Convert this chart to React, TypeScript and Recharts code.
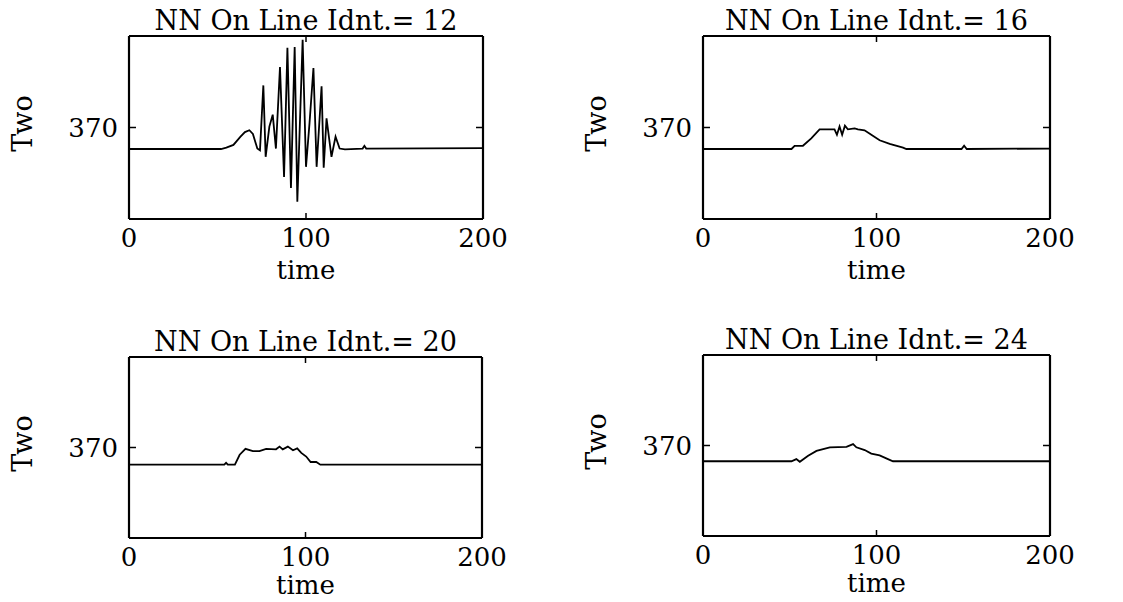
import React from "react";
import { Label, Line, LineChart, XAxis, YAxis } from "recharts";

// NN on-line identification, Two vs time, four training lengths
const panelIds = [12, 16, 20, 24];
const xTicks = [0, 100, 200];
const yTicks = [370];

const time12 = [0, 52, 55, 59, 63, 65.5, 68, 70, 72.5, 74, 75.9, 77.2, 79.3, 81.2, 83, 85.3, 87.6, 89.5, 91.5, 93.6, 95.1, 98.1, 100, 102, 104.2, 106, 108.8, 110, 111.6, 114.4, 116.7, 119, 122, 132, 133, 134, 200];
const two12 = [367.65, 367.65, 367.8, 368.1, 369.0, 369.5, 369.7, 369.3, 367.7, 367.5, 374.6, 366.8, 370.1, 371.4, 367.7, 376.6, 364.6, 378.7, 363.4, 378.8, 361.9, 379.6, 365.7, 370.5, 376.5, 365.7, 374.5, 365.6, 371.0, 366.8, 369.0, 367.7, 367.6, 367.7, 368.0, 367.7, 367.75];

const time16 = [0, 51, 52.8, 57.6, 62.4, 67.2, 75.8, 77.2, 78.7, 80.2, 81.8, 83.5, 87.4, 89.3, 93.1, 97, 101.8, 107.6, 115.3, 117.2, 149, 150.5, 152, 200];
const two16 = [367.65, 367.65, 368.0, 368.0, 368.8, 369.8, 369.8, 369.2, 370.1, 369.2, 370.2, 369.8, 369.9, 369.8, 369.7, 369.2, 368.6, 368.2, 367.8, 367.65, 367.65, 368.0, 367.65, 367.7];

const time20 = [0, 54, 55, 56, 60, 62.7, 66, 70.2, 73.9, 77.7, 83.3, 85.3, 87.1, 90, 92.9, 95.3, 97.6, 100.4, 102.9, 106.1, 108.4, 200];
const two20 = [368.1, 368.1, 368.3, 368.1, 368.1, 369.2, 369.85, 369.6, 369.6, 369.85, 369.8, 370.1, 369.8, 370.1, 369.7, 369.9, 369.4, 369.0, 368.4, 368.4, 368.1, 368.1];

const time24 = [0, 51, 53.8, 55.8, 60.6, 65.4, 73.1, 82.7, 86.5, 88.4, 93.2, 97, 101.8, 106.6, 109.5, 200];
const two24 = [368.26, 368.26, 368.5, 368.2, 368.86, 369.4, 369.8, 369.85, 370.15, 369.8, 369.5, 369.1, 368.9, 368.5, 368.26, 368.26];

const series = [
  { t: time12, v: two12 },
  { t: time16, v: two16 },
  { t: time20, v: two20 },
  { t: time24, v: two24 },
];

// plot-box placement on the page: left, top, width, height,
// gap below box to "time" baseline, extra room under the svg
const boxes = [
  [129, 36, 354, 183, 60, 14],
  [703, 36, 347, 183, 60, 14],
  [129, 357, 353, 181, 56, 8],
  [703, 355, 347, 181, 56, 8],
];

const FONT = "'DejaVu Serif', serif";
const LEFT_W = 129;
const TOP_H = 36;
const RIGHT_W = 40;

const bottomTick = (p: any) => (
  <g>
    <line x1={p.x} y1={p.y} x2={p.x} y2={p.y - 6} stroke="#000" strokeWidth={1.5} />
    <text x={p.x} y={p.y + 28} textAnchor="middle" fontFamily={FONT} fontSize={26} fill="#000">
      {p.payload.value}
    </text>
  </g>
);

const topTick = (p: any) => (
  <line x1={p.x} y1={p.y} x2={p.x} y2={p.y + 6} stroke="#000" strokeWidth={1.5} />
);

const leftTick = (p: any) => (
  <g>
    <line x1={p.x} y1={p.y} x2={p.x + 7} y2={p.y} stroke="#000" strokeWidth={1.5} />
    <text x={p.x - 11} y={p.y + 9} textAnchor="end" fontFamily={FONT} fontSize={26} fill="#000">
      {p.payload.value}
    </text>
  </g>
);

const rightTick = (p: any) => (
  <line x1={p.x} y1={p.y} x2={p.x - 7} y2={p.y} stroke="#000" strokeWidth={1.5} />
);

const Panel = ({ idx }: { idx: number }) => {
  const [L, T, PW, PH, BH, EXTRA] = boxes[idx];
  const s = series[idx];
  const data = s.t.map((t, i) => ({ t, v: s.v[i] }));
  const W = LEFT_W + PW + RIGHT_W;
  const H = TOP_H + PH + BH + EXTRA;

  const title = (lp: any) => {
    const vb = lp.viewBox;
    return (
      <text x={vb.x + vb.width / 2} y={vb.y + vb.height - 6} textAnchor="middle" fontFamily={FONT} fontSize={27} fill="#000">
        {`NN On Line Idnt.= ${panelIds[idx]}`}
      </text>
    );
  };

  const yLabel = (lp: any) => {
    const vb = lp.viewBox;
    const cx = vb.x + 23;
    const cy = vb.y + vb.height / 2 - 4;
    return (
      <text x={cx} y={cy} transform={`rotate(-90 ${cx} ${cy})`} dy={9} textAnchor="middle" fontFamily={FONT} fontSize={27} fill="#000">
        Two
      </text>
    );
  };

  return (
    <div style={{ position: "absolute", left: L - LEFT_W, top: T - TOP_H }}>
      <LineChart width={W} height={H} data={data} margin={{ top: 0, right: 0, bottom: EXTRA, left: 0 }}>
        <XAxis
          xAxisId="b"
          dataKey="t"
          type="number"
          domain={[0, 200]}
          ticks={xTicks}
          interval={0}
          height={BH}
          tickSize={0}
          tickMargin={0}
          tick={bottomTick}
          axisLine={{ stroke: "#000", strokeWidth: 2.2 }}
          tickLine={false}
        >
          <Label value="time" position="insideBottom" offset={0} fontFamily={FONT} fontSize={26} fill="#000" />
        </XAxis>
        <XAxis
          xAxisId="top"
          orientation="top"
          dataKey="t"
          type="number"
          domain={[0, 200]}
          ticks={xTicks}
          interval={0}
          height={TOP_H}
          tickSize={0}
          tickMargin={0}
          tick={topTick}
          axisLine={{ stroke: "#000", strokeWidth: 2.2 }}
          tickLine={false}
        >
          <Label content={title} />
        </XAxis>
        <YAxis
          yAxisId="l"
          type="number"
          domain={[360, 380]}
          ticks={yTicks}
          interval={0}
          width={LEFT_W}
          tickSize={0}
          tickMargin={0}
          tick={leftTick}
          axisLine={{ stroke: "#000", strokeWidth: 2.2 }}
          tickLine={false}
          allowDataOverflow
        >
          <Label content={yLabel} />
        </YAxis>
        <YAxis
          yAxisId="r"
          orientation="right"
          type="number"
          domain={[360, 380]}
          ticks={yTicks}
          interval={0}
          width={RIGHT_W}
          tickSize={0}
          tickMargin={0}
          tick={rightTick}
          axisLine={{ stroke: "#000", strokeWidth: 2.2 }}
          tickLine={false}
          allowDataOverflow
        />
        <Line
          xAxisId="b"
          yAxisId="l"
          type="linear"
          dataKey="v"
          stroke="#000"
          strokeWidth={1.8}
          dot={false}
          isAnimationActive={false}
        />
      </LineChart>
    </div>
  );
};

export default function App() {
  return (
    <div style={{ position: "absolute", left: 0, top: 0, width: 1123, height: 602, background: "#fff" }}>
      {panelIds.map((id, i) => (
        <Panel key={id} idx={i} />
      ))}
    </div>
  );
}
